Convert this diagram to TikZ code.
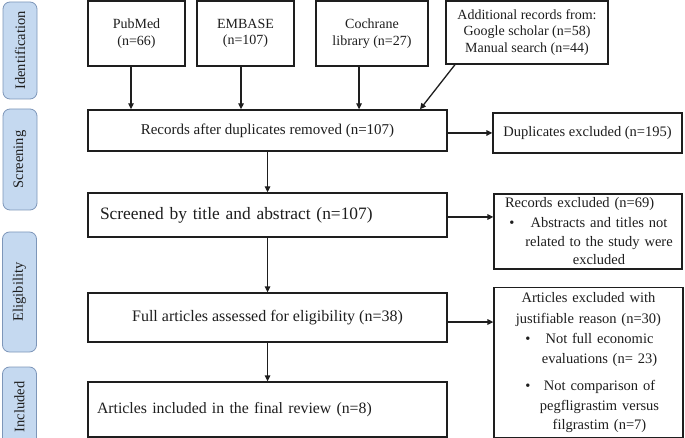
\documentclass[tikz,border=0pt]{standalone}
\usepackage{fontspec}
\setmainfont{Liberation Serif}
\usetikzlibrary{arrows.meta}
\definecolor{phasefill}{RGB}{197,217,240}
\definecolor{phaseline}{RGB}{125,150,185}
\definecolor{boxline}{RGB}{30,30,30}
\definecolor{txt}{RGB}{30,30,30}
\newcommand{\firstbl}[3]{\makebox[189pt][l]{\hspace*{#1}\makebox[0pt]{\textbullet}\hspace*{10pt}\makebox[#2][c]{#3}}}
\newcommand{\restbl}[3]{\makebox[189pt][l]{\hspace*{#1}\hspace*{10pt}\makebox[#2][c]{#3}}}
\tikzset{
  box/.style={draw=boxline, line width=1.3pt, fill=white, inner sep=0pt, text=txt, align=center},
  topbox/.style={box, font=\fontsize{14}{16.5}\selectfont},
  sidebox/.style={box, font=\fontsize{14.5}{19.5}\selectfont},
  phase/.style={draw=phaseline, fill=phasefill, line width=0.8pt, rounded corners=7pt, rotate=90,
    minimum height=34pt, inner sep=0pt, text=txt, font=\fontsize{14.5}{17}\selectfont},
  arr/.style={draw=boxline, line width=1.3pt, -{Triangle[length=6pt,width=5.5pt]}}
}
\begin{document}
\begin{tikzpicture}[x=1pt,y=-1pt]
\clip (0,0) rectangle (685,438);
\useasboundingbox (0,0) rectangle (685,438);
% phase bars
\node[phase, minimum width=97pt] (ident) at (20,50.5) {Identification};
\node[phase, minimum width=101pt] (screen) at (20,159.5) {Screening};
\node[phase, minimum width=120pt] (elig) at (19.5,292) {Eligibility};
\node[phase, minimum width=80pt] (incl) at (19.5,407) {Included};
% top boxes
\node[topbox, minimum width=97pt, minimum height=65pt] (pub) at (136.5,33.5) {PubMed\\(n=66)};
\node[topbox, minimum width=97pt, minimum height=65pt] (emb) at (245.5,33.5) {EMBASE\\(n=107)};
\node[topbox, minimum width=112pt, minimum height=65pt] (coc) at (372,33.5) {Cochrane\\library (n=27)};
\node[topbox, minimum width=162pt, minimum height=63pt] (add) at (527,32.5) {Additional records from:\\Google scholar (n=58)\\Manual search (n=44)};
% main column
\node[box, minimum width=359pt, minimum height=41pt, font=\fontsize{15}{18}\selectfont] (rec) at (267.5,130.5) {Records after duplicates removed (n=107)};
\node[box, text width=335pt, inner xsep=12pt, align=left, minimum height=44pt, font=\fontsize{17.4}{21}\selectfont] (scr) at (267.5,215) {Screened by title and abstract (n=107)};
\node[box, minimum width=359pt, minimum height=49pt, font=\fontsize{16}{19}\selectfont] (full) at (267.5,317.5) {Full articles assessed for eligibility (n=38)};
\node[box, text width=341pt, inner xsep=9pt, align=left, minimum height=55pt, font=\fontsize{15.8}{19}\selectfont] (inc) at (267.5,409.5) {Articles included in the final review (n=8)};
% side boxes
\node[sidebox, minimum width=189pt, minimum height=40pt] (dup) at (587.5,133) {Duplicates excluded (n=195)};
\node[sidebox, text width=188pt, minimum height=75pt] (rex) at (588,231.5) {\makebox[188pt][l]{\hspace*{11pt}Records excluded (n=69)}\\
\firstbl{18pt}{154pt}{Abstracts and titles not}\\
\restbl{18pt}{154pt}{related to the study were}\\[-1.5pt]
\restbl{18pt}{154pt}{excluded}};
\node[sidebox, text width=189pt, minimum height=150pt, font=\fontsize{14.5}{20}\selectfont] (aex) at (588.5,362.5) {\makebox[189pt]{Articles excluded with}\\[1pt]
\makebox[189pt]{justifiable reason (n=30)}\\
\firstbl{34pt}{123pt}{Not full economic}\\
\restbl{34pt}{123pt}{evaluations (n= 23)}\\[6.5pt]
\firstbl{34pt}{123pt}{Not comparison of}\\
\restbl{34pt}{123pt}{pegfligrastim versus}\\[-1pt]
\restbl{34pt}{123pt}{filgrastim (n=7)}};
% connectors
\draw[arr] ([xshift=-5.5pt]pub.south) -- ([xshift=-5.5pt]pub.south |- rec.north);
\draw[arr] ([xshift=-4.5pt]emb.south) -- ([xshift=-4.5pt]emb.south |- rec.north);
\draw[arr] ([xshift=-13pt]coc.south) -- ([xshift=-13pt]coc.south |- rec.north);
\draw[arr] ([xshift=-72pt]add.south) -- ([xshift=152.5pt]rec.north);
\draw[arr] (dup.west -| rec.east) -- (dup.west);
\draw[arr] (rec.south) -- (scr.north);
\draw[arr] ([yshift=-2pt]scr.east) -- ([yshift=-2pt]scr.east -| rex.west);
\draw[arr] (scr.south) -- (full.north);
\draw[arr] ([yshift=-4.5pt]full.east) -- ([yshift=-4.5pt]full.east -| aex.west);
\draw[arr] (full.south) -- (inc.north);
\end{tikzpicture}
\end{document}
